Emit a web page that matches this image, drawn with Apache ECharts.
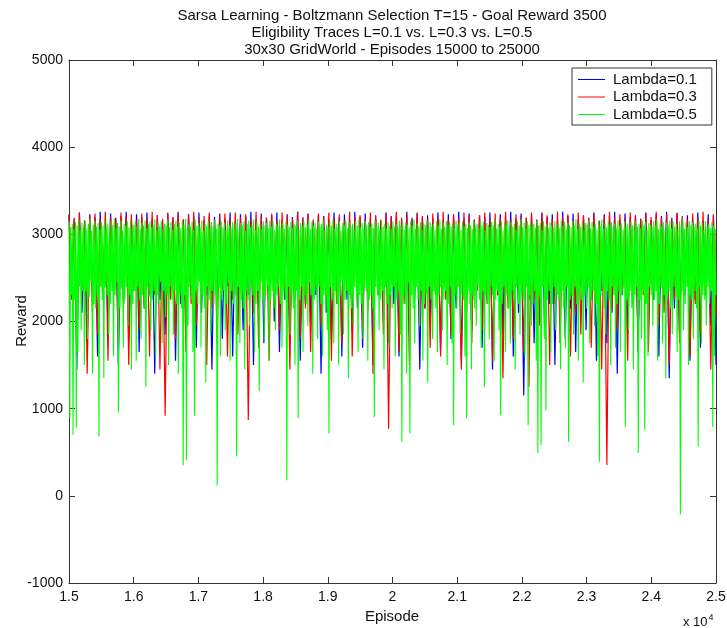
<!DOCTYPE html>
<html>
<head>
<meta charset="utf-8">
<script src="https://cdn.jsdelivr.net/npm/echarts@6/dist/echarts.min.js"></script>
<style>
html,body{margin:0;padding:0;background:#fff;}
#chart{width:727px;height:628px;}
</style>
</head>
<body>
<div id="chart"></div>
<script>
// ---------- text ----------
const titleLines = [
  'Sarsa Learning - Boltzmann Selection T=15 - Goal Reward 3500',
  'Eligibility Traces L=0.1 vs. L=0.3 vs. L=0.5',
  '30x30 GridWorld - Episodes 15000 to 25000'
];
const seriesNames = ['Lambda=0.1', 'Lambda=0.3', 'Lambda=0.5'];
const xAxisTitle = 'Episode';
const yAxisTitle = 'Reward';

// ---------- axes ----------
const episodeFirst = 15000;
const episodeLast = 25000;
const xTickStep = 1000;      // labels shown as x 10^4 : 1.5 ... 2.5
const yMin = -1000, yMax = 5000, yTickStep = 1000;

// ---------- series values (episodes evenly spaced) ----------
const lambda01 = [
3220,2300,3180,1450,3250,2100,3150,1750,3230,2400,3200,1600,3260,2250,3170,1900,3240,2350,3190,1500,
3210,2200,3260,1800,3160,2450,3230,1650,3200,2150,3250,2300,3180,1400,3220,2250,3150,1850,3240,2400,
3190,1550,3260,2200,3170,1950,3230,2350,3210,1700,3250,2100,3160,2300,3220,1450,3200,2250,3240,1800,
3180,2400,3250,1600,3150,2200,3230,1900,3210,2300,3260,1500,3170,2150,3240,1750,3190,2350,3220,2000,
3250,1650,3160,2250,3230,1850,3200,2400,3260,1550,3180,2200,3240,1950,3150,2300,3220,1400,3210,2100,
3170,1800,3250,2350,3190,1600,3230,2250,3160,1900,3260,2150,3200,1700,3240,2400,3180,1500,3220,2300,
3150,2000,3250,1750,3210,2200,3230,1600,3170,2350,3260,1850,3190,2250,3240,1450,3200,2150,3220,1950,
3180,2400,3250,1650,3160,2300,3230,1800,3210,2150,3260,1550,3190,2250,3240,1900,3170,2350,3220,1700,
3200,2200,3250,1450,3150,2300,3230,1850,3210,2400,3260,1600,3180,2100,3240,1150,3190,2250,3220,1750,
3170,2350,3250,1950,3200,2200,3230,1500,3160,2300,3260,1800,3210,2150,3240,1650,3180,2400,3220,1900,
3190,2250,3250,1550,3150,2350,3230,1750,3210,2100,3260,1400,3170,2300,3240,1850,3200,2200,3220,1650,
3180,2400,3250,1900,3160,2250,3230,1600,3210,2350,3260,1350,3190,2150,3240,1800,3170,2300,3220,1550,
3200,2250,3250,1700,3150,2400,3230,1950,3210,1500
];
const lambda03 = [
3230,2250,3190,1650,3250,2350,3160,1400,3220,2100,3240,1850,3180,2300,3260,1550,3200,2400,3170,1750,
3250,2200,3210,1500,3230,2350,3160,1900,3240,2150,3190,1600,3260,2300,3220,1450,3180,920,3250,2250,
3200,1800,3240,2400,3170,1650,3230,2200,3260,1950,3190,2300,3210,1500,3250,2150,3160,1750,3220,2350,
3240,1600,3180,2250,3250,1850,3200,2400,3230,870,3170,2100,3260,1700,3210,2300,3190,1550,3240,2200,
3160,1900,3250,2350,3220,1450,3180,2250,3260,1800,3200,2150,3230,1650,3170,2400,3240,1950,3210,2300,
3250,1550,3190,2200,3230,1750,3160,2350,3260,1600,3200,2250,3220,1900,3180,2100,3250,1400,3210,2300,
3170,1850,3240,770,3200,2400,3260,1650,3190,2200,3230,1500,3160,2350,3250,1950,3210,2150,3180,1700,
3240,2300,3200,1600,3260,2250,3170,1850,3230,2400,3190,1450,3250,2100,3210,1750,3160,2350,3220,1900,
3250,2200,3180,1550,3240,2300,3200,1350,3260,2150,3170,1800,3230,2400,3210,1650,3190,1250,3250,2250,
3160,1950,3240,2350,3220,1500,3180,2200,3260,1750,3200,2300,3230,1600,3170,2100,3250,1850,3210,2400,
3190,1700,3240,2250,3160,1450,3220,355,3260,2150,3200,1900,3230,2350,3180,1550,3250,2200,3210,1800,
3170,2300,3240,1650,3200,2400,3260,1950,3190,2100,3230,1500,3160,2250,3250,1750,3210,2350,3180,1600,
3240,2200,3200,1850,3260,2300,3170,1450,3230,2050
];
const lambda05 = [
3150,900,3080,2300,3120,700,3060,2250,3140,780,3100,1650,3170,2400,3050,1900,3130,2350,3090,1500,
3160,2350,3070,1800,3120,2280,3180,2450,3040,1400,3110,2200,3150,2150,3090,2300,3130,680,3060,2400,
3140,2250,3100,1350,3170,2400,3080,2300,3120,1850,3050,2200,3150,2350,3110,1600,3180,2300,3070,2450,
3130,960,3090,2150,3160,2380,3040,1700,3120,2250,3100,2400,3150,1950,3080,2300,3170,1450,3060,2200,
3110,2350,3140,1550,3090,2400,3180,2250,3050,1800,3130,2300,3100,2150,3160,1250,3070,2400,3120,2280,
3150,1900,3080,2250,3110,2350,3170,1600,3040,2300,3130,2200,3090,2450,3150,1750,3060,2350,3120,2050,
3100,2300,3170,1500,3080,2400,3140,2250,3050,1850,3120,2350,3160,2200,3090,1400,3130,2300,3070,2150,
3150,350,3110,2300,3180,410,3060,1950,3120,2400,3090,2250,3140,1650,3050,920,3170,2350,3100,2200,
3130,2450,3080,1700,3160,2300,3040,2150,3120,1300,3100,2400,3150,2250,3070,1850,3140,2350,3090,2200,
3170,2300,3060,115,3120,2400,3100,1600,3150,2250,3080,2350,3130,1900,3050,2200,3160,2450,3110,1550,
3090,2350,3140,2200,3070,2300,3120,450,3180,2400,3060,1750,3130,2250,3100,2150,3150,1450,3040,2350,
3120,2250,3160,1950,3080,2400,3110,2300,3170,1650,3050,2200,3140,2350,3090,1200,3120,2450,3060,2250,
3150,1800,3100,2300,3130,2400,3070,1550,3160,2250,3090,2350,3140,2150,3050,1900,3120,2300,3100,2400,
3170,2200,3080,1700,3130,2350,3060,2250,3150,180,3110,2400,3090,1850,3140,2300,3070,2150,3120,1500,
3100,2350,3160,890,3050,2250,3130,2400,3090,1650,3150,2300,3080,2200,3120,1950,3170,2450,3060,2300,
3140,1400,3100,2250,3130,2350,3070,1800,3150,2400,3090,2200,3120,1600,3160,2300,3050,2150,3110,1900,
3080,715,3140,2400,3100,2250,3170,1750,3060,2350,3120,2200,3090,1500,3150,2300,3040,2450,3130,1850,
3110,2250,3160,2350,3070,1350,3140,2300,3090,2150,3120,1950,3050,2400,3150,2250,3100,1650,3170,2300,
3080,2200,3130,1800,3060,2400,3150,2350,3110,1550,3140,2250,3090,2300,3120,2150,3070,905,3160,2400,
3100,2300,3130,1900,3050,2250,3150,2350,3090,1450,3120,2400,3070,2200,3140,1700,3100,2300,3060,2150,
3150,2400,3090,1600,3120,2250,3070,2350,3160,1850,3100,620,3140,2300,3050,2200,3130,1400,3110,2450,
3080,715,3150,2300,3100,2150,3170,1750,3060,2400,3120,2250,3090,1950,3140,2350,3050,1550,3130,2200,
3110,2300,3160,1300,3070,2400,3140,2250,3090,1800,3120,2350,3050,2150,3150,1650,3100,2300,3170,2400,
3060,1900,3130,2250,3080,2350,3150,1500,3110,2200,3140,2400,3090,1750,3120,810,3070,2300,3160,2150,
3100,2400,3130,1850,3050,2300,3150,2250,3090,1600,3120,890,3070,2350,3140,2200,3100,1450,3060,2300,
3150,2150,3090,1950,3120,2400,3070,2250,3160,1700,3100,2350,3140,1250,3050,2300,3130,2200,3110,1800,
3080,2400,3140,2300,3100,1550,3170,2250,3060,2350,3120,1900,3090,925,3150,2200,3040,2400,3130,1650,
3110,2300,3160,2150,3070,1750,3140,2350,3090,2250,3120,1450,3050,2400,3150,2200,3100,1850,3170,2300,
3080,2250,3130,1600,3060,2400,3150,810,3110,2300,3140,1950,3090,2200,3120,2350,3070,1550,3160,490,
3100,2300,3130,580,3050,2400,3150,1800,3090,980,3120,2250,3070,2350,3140,1650,3100,2200,3060,2400,
3150,1900,3090,2300,3120,2250,3070,1450,3160,2350,3100,2150,3140,1700,3050,2400,3130,620,3110,2250,
3080,2300,3150,1850,3100,2400,3170,2200,3060,1550,3120,2350,3090,2250,3140,1300,3050,2300,3130,2150,
3110,2400,3160,1750,3070,2250,3140,2350,3090,1950,3120,2200,3050,1600,3150,390,3100,2300,3170,2400,
3060,2150,3130,1850,3080,2350,3150,2250,3110,1500,3140,2400,3090,2300,3120,1700,3070,2200,3160,2350,
3100,1650,3130,2300,3050,2400,3150,790,3090,2250,3120,1900,3070,2350,3140,2150,3100,1450,3060,2300,
3150,2400,3090,490,3120,2250,3070,1800,3160,2350,3100,755,3140,2200,3050,1600,3130,2400,3110,2300,
3080,1950,3150,2250,3100,2350,3170,1550,3060,2200,3120,2400,3090,1750,3140,2300,3050,1350,3130,2250,
3110,2350,3160,2150,3070,1850,3140,2400,3090,2300,3120,1650,3050,2250,3150,-215,3100,2350,3170,1900,
3060,2200,3130,2400,3080,1500,3150,2300,3110,2250,3140,1800,3090,2350,3120,2150,3070,565,3160,2400,
3100,1750,3130,2300,3050,2250,3150,1950,3090,2400,3120,2200,3070,2350,3140,790,3100,1600,3060,2300
];
const seriesColors = ['#0000ff', '#ff0000', '#00ff00'];
const seriesWidths = [1.2, 1.2, 1.1];

// episodes are evenly spaced over the shown range
function withEpisodes(values) {
  const n = values.length;
  return values.map((v, i) => [episodeFirst + i * (episodeLast - episodeFirst) / (n - 1), v]);
}

const FONT = '"Liberation Sans", Arial, Helvetica, sans-serif';
const axisColor = '#333';

const chart = echarts.init(document.getElementById('chart'), null, {renderer: 'canvas'});

function axisBase(extra) {
  return Object.assign({
    type: 'value',
    axisLine: {show: true, onZero: false, lineStyle: {color: axisColor, width: 1}},
    axisTick: {show: true, inside: true, length: 6, lineStyle: {color: axisColor, width: 1}},
    splitLine: {show: false},
    minorTick: {show: false}
  }, extra);
}

const series = [lambda01, lambda03, lambda05].map((vals, k) => ({
  name: seriesNames[k],
  type: 'line',
  xAxisIndex: 0,
  yAxisIndex: 0,
  data: withEpisodes(vals),
  symbol: 'none',
  showSymbol: false,
  smooth: false,
  silent: true,
  animation: false,
  color: seriesColors[k],
  lineStyle: {color: seriesColors[k], width: seriesWidths[k]},
  z: 2 + k
}));

const option = {
  backgroundColor: '#ffffff',
  animation: false,
  grid: {left: 69, right: 11, top: 60, bottom: 45, containLabel: false, outerBoundsMode: 'none'},
  xAxis: [
    axisBase({
      position: 'bottom', min: episodeFirst, max: episodeLast, interval: xTickStep,
      axisLabel: {
        show: true, margin: 7, color: '#111', fontSize: 14, fontFamily: FONT,
        formatter: v => String(Math.round(v / 1000) / 10)
      }
    }),
    axisBase({
      position: 'top', min: episodeFirst, max: episodeLast, interval: xTickStep,
      axisLabel: {show: false}
    })
  ],
  yAxis: [
    axisBase({
      position: 'left', min: yMin, max: yMax, interval: yTickStep,
      axisLabel: {show: true, margin: 6, color: '#111', fontSize: 14, fontFamily: FONT,
        formatter: v => String(v)}
    }),
    axisBase({
      position: 'right', min: yMin, max: yMax, interval: yTickStep,
      axisLabel: {show: false}
    })
  ],
  legend: {
    show: true,
    orient: 'vertical',
    left: 572,
    top: 68,
    padding: [4, 15, 3, 6],
    itemGap: 2.5,
    itemWidth: 27,
    itemHeight: 1,
    icon: 'rect',
    borderColor: '#333',
    borderWidth: 1,
    borderRadius: 0,
    backgroundColor: '#ffffff',
    textStyle: {fontSize: 15, fontFamily: FONT, color: '#111', padding: [0, 0, 0, 3]},
    selectedMode: false,
    data: seriesNames.map((n, k) => ({name: n, icon: 'rect', itemStyle: {color: seriesColors[k], borderWidth: 0}}))
  },
  graphic: [
    {
      type: 'text', x: 392, y: 7, silent: true,
      style: {
        text: titleLines.join('\n'), fill: '#111', font: '15px ' + FONT,
        textAlign: 'center', textVerticalAlign: 'top', lineHeight: 17
      }
    },
    {
      type: 'text', x: 22, y: 321, rotation: Math.PI / 2, silent: true,
      style: {text: yAxisTitle, fill: '#111', font: '15px ' + FONT, textAlign: 'center', textVerticalAlign: 'middle'}
    },
    {
      type: 'text', x: 392, y: 617, silent: true,
      style: {text: xAxisTitle, fill: '#111', font: '15px ' + FONT, textAlign: 'center', textVerticalAlign: 'middle'}
    },
    {
      type: 'text', x: 683, y: 622, silent: true,
      style: {
        text: 'x 10{s|4}', fill: '#111', font: '13px ' + FONT,
        textAlign: 'left', textVerticalAlign: 'middle',
        rich: {s: {fontSize: 9, fontFamily: FONT, fill: '#111', verticalAlign: 'top', padding: [0, 0, 8, 1]}}
      }
    }
  ],
  series: series
};

chart.setOption(option);
</script>
</body>
</html>
